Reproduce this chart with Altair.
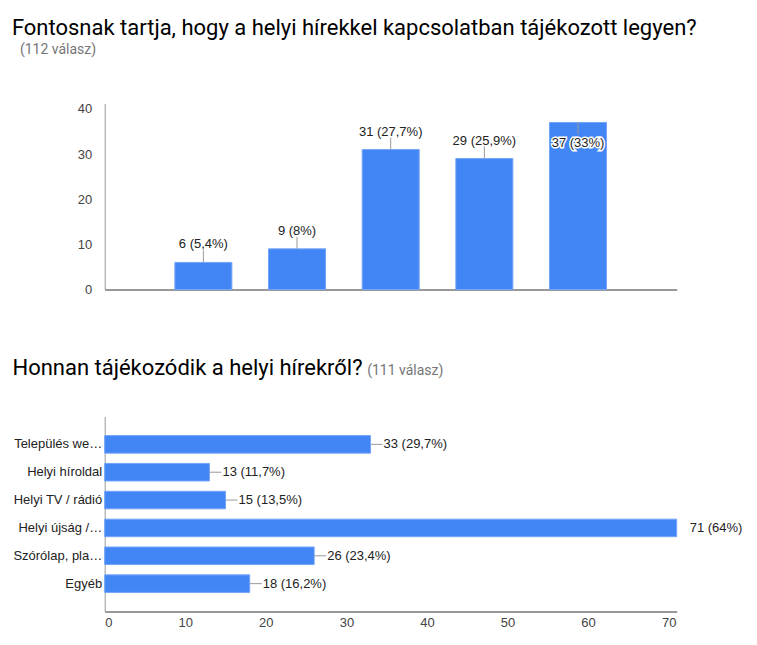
import altair as alt
import pandas as pd

# ---- data ----
q1_title = "Fontosnak tartja, hogy a helyi hírekkel kapcsolatban tájékozott legyen?"
q1_sub = "(112 válasz)"
q1_total = 112
q1_ratings = [1, 2, 3, 4, 5]
q1_counts = [6, 9, 31, 29, 37]

q2_title = "Honnan tájékozódik a helyi hírekről?"
q2_sub = "(111 válasz)"
q2_total = 111
q2_sources = ["Település we…", "Helyi híroldal", "Helyi TV / rádió",
              "Helyi újság /…", "Szórólap, pla…", "Egyéb"]
q2_counts = [33, 13, 15, 71, 26, 18]


def fmt(n, total):
    p = round(n / total * 100, 1)
    s = f"{p:.1f}".rstrip("0").rstrip(".").replace(".", ",")
    return f"{n} ({s}%)"


BLUE = "#4285f4"
EDGE = "#74a5f8"
LBL_FONT = "Liberation Sans"
TITLE_FONT = "Roboto"
Y1_MAX = 41.2

df1 = pd.DataFrame({"r": q1_ratings, "n": q1_counts,
                    "lab": [fmt(n, q1_total) for n in q1_counts]})
df1["inside"] = df1["n"] + 5.3 > Y1_MAX

df2 = pd.DataFrame({"s": q2_sources, "n": q2_counts,
                    "lab": [fmt(n, q2_total) for n in q2_counts]})


def text_chart(txt, x, y, size, color):
    return alt.Chart(pd.DataFrame({"t": [txt]})).mark_text(
        font=TITLE_FONT, fontSize=size, color=color, align="left",
        baseline="alphabetic").encode(text="t:N", x=alt.value(x), y=alt.value(y))


# ---- chart 1 ----
x1 = alt.X("r:Q", scale=alt.Scale(domain=[0, 6], nice=False),
           axis=alt.Axis(labels=False, ticks=False, grid=False, title=None,
                         domainColor="#333333"))
y1 = alt.Y("n:Q", scale=alt.Scale(domain=[0, Y1_MAX], nice=False),
           axis=alt.Axis(values=[0, 10, 20, 30, 40], ticks=False, grid=False,
                         title=None, labelPadding=13, labelFont=LBL_FONT,
                         labelFontSize=13, labelColor="#444444",
                         domainColor="#999999"))

base1 = alt.Chart(df1)
bars1 = base1.mark_bar(color=BLUE, stroke=EDGE, strokeWidth=1, size=57).encode(x=x1, y=y1)
out1 = base1.transform_filter("!datum.inside")
in1 = base1.transform_filter("datum.inside")
lead_out = out1.mark_rule(color="#999999", y2Offset=-12).encode(x=x1, y=y1, y2="n:Q")
lead_in = in1.mark_rule(color="#999999", y2Offset=12).encode(x=x1, y=y1, y2="n:Q")
txt_out = out1.mark_text(font=LBL_FONT, fontSize=13, color="#222222", dy=-18,
                         baseline="middle", align="center").encode(x=x1, y=y1, text="lab:N")
halo_in = in1.mark_text(font=LBL_FONT, fontSize=13, color="#ffffff", stroke="#ffffff",
                        strokeWidth=3, dy=21, baseline="middle",
                        align="center").encode(x=x1, y=y1, text="lab:N")
txt_in = in1.mark_text(font=LBL_FONT, fontSize=13, color="#222222", dy=21,
                       baseline="middle", align="center").encode(x=x1, y=y1, text="lab:N")

title1 = text_chart(q1_title, -92.8, -69, 22, "#000000")
sub1 = text_chart(q1_sub, -84.8, -50, 14, "#757575")

chart1 = alt.layer(bars1, lead_out, lead_in, txt_out, halo_in, txt_in,
                   title1, sub1).properties(width=572, height=186)

# ---- chart 2 ----
x2 = alt.X("n:Q", scale=alt.Scale(domain=[0, max(q2_counts)], nice=False),
           axis=alt.Axis(values=[0, 10, 20, 30, 40, 50, 60, 70], ticks=False,
                         grid=False, title=None, labelPadding=5, labelFont=LBL_FONT,
                         labelFontSize=13, labelColor="#444444",
                         domainColor="#333333"))
y2 = alt.Y("s:N", sort=q2_sources,
           scale=alt.Scale(paddingInner=0.37, paddingOuter=0.685),
           axis=alt.Axis(ticks=False, grid=False, title=None, labelPadding=3,
                         labelFont=LBL_FONT, labelFontSize=13, labelColor="#222222",
                         labelLimit=200, domainColor="#999999"))

base2 = alt.Chart(df2)
bars2 = base2.mark_bar(color=BLUE, stroke=EDGE, strokeWidth=1).encode(x=x2, y=y2)
lead2 = base2.transform_filter(alt.datum.n < max(q2_counts)).mark_rule(
    color="#999999", x2Offset=12).encode(x=x2, x2="n:Q", y=y2)
txt2 = base2.mark_text(font=LBL_FONT, fontSize=13, color="#222222", dx=13,
                       align="left", baseline="middle").encode(x=x2, y=y2, text="lab:N")
title2 = text_chart(q2_title, -92.2, -41.3, 22, "#000000")
sub2 = text_chart(q2_sub, 262.5, -41.3, 14, "#757575")

chart2 = alt.layer(bars2, lead2, txt2, title2, sub2).properties(width=572, height=195)

chart = alt.vconcat(chart1, chart2, spacing=60).properties(
    padding={"left": 11.7, "top": 16.5, "right": 5, "bottom": 5},
    background="white").configure_view(stroke=None)

chart.save("out.html", embed_options={"renderer": "svg", "actions": False})
